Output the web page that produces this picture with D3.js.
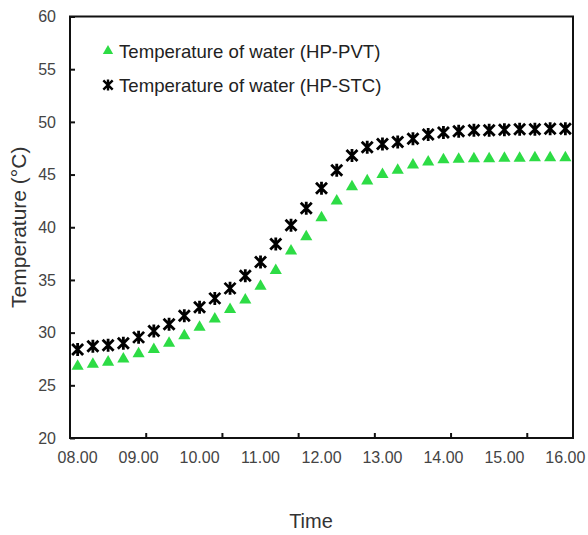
<!DOCTYPE html>
<html>
<head>
<meta charset="utf-8">
<script src="https://cdn.jsdelivr.net/npm/d3@7"></script>
<style>
  body { margin: 0; background: #fff; }
  text { font-family: "Liberation Sans", Arial, sans-serif; }
</style>
</head>
<body>
<div id="chart"></div>
<script>
// time slots, every 15 minutes
const times = [
  "08.00","08.15","08.30","08.45","09.00","09.15","09.30","09.45",
  "10.00","10.15","10.30","10.45","11.00","11.15","11.30","11.45",
  "12.00","12.15","12.30","12.45","13.00","13.15","13.30","13.45",
  "14.00","14.15","14.30","14.45","15.00","15.15","15.30","15.45","16.00"
]
const pvt = [
  26.8, 27.0, 27.2, 27.5, 28.0, 28.4, 29.0, 29.7,
  30.5, 31.3, 32.2, 33.1, 34.4, 35.9, 37.75, 39.1,
  40.9, 42.5, 43.85, 44.4, 45.0, 45.4, 45.9, 46.2,
  46.4, 46.45, 46.5, 46.5, 46.55, 46.55, 46.6, 46.6, 46.6
]
const stc = [
  28.4, 28.7, 28.8, 29.0, 29.55, 30.15, 30.8, 31.6,
  32.4, 33.25, 34.2, 35.4, 36.7, 38.4, 40.2, 41.8,
  43.7, 45.4, 46.8, 47.6, 47.9, 48.1, 48.4, 48.8,
  49.0, 49.1, 49.2, 49.2, 49.25, 49.3, 49.3, 49.35, 49.35
]
const yTicks = [20, 25, 30, 35, 40, 45, 50, 55, 60]
const labelTimes = ["08.00","09.00","10.00","11.00","12.00","13.00","14.00","15.00","16.00"]
const series = [
  { name: "Temperature of water (HP-PVT)", values: pvt, marker: "triangle" },
  { name: "Temperature of water (HP-STC)", values: stc, marker: "star" }
]

const W = 588, H = 535
const m = { left: 70, right: 15, top: 16.5, bottom: 97 }
const green = "#2ddc45"

const svg = d3.select('#chart').append('svg')
  .attr('width', W).attr('height', H)

const x = d3.scaleBand().domain(times).range([m.left, W - m.right]).padding(0)
const y = d3.scaleLinear().domain([20, 60]).range([H - m.bottom, m.top])
const xc = d => x(d) + x.bandwidth() / 2

// frame
svg.append('rect')
  .attr('x', m.left).attr('y', m.top)
  .attr('width', W - m.right - m.left).attr('height', H - m.bottom - m.top)
  .attr('fill', 'none').attr('stroke', '#111').attr('stroke-width', 2)

// y axis, ticks inside
const gy = svg.append('g')
  .attr('transform', `translate(${m.left},0)`)
  .call(d3.axisLeft(y).tickValues(yTicks).tickSizeInner(-5).tickSizeOuter(0).tickPadding(14))
gy.select('.domain').remove()
gy.selectAll('line').attr('stroke', '#111').attr('stroke-width', 2)
gy.selectAll('text').attr('font-size', 16).attr('fill', '#444')
  .style('font-family', '"Liberation Sans", Arial, sans-serif')

// x axis, labels each hour
const gx = svg.append('g')
  .attr('transform', `translate(0,${H - m.bottom})`)
  .call(d3.axisBottom(x).tickValues(labelTimes).tickSize(0).tickPadding(14))
gx.select('.domain').remove()
gx.selectAll('text').attr('font-size', 16).attr('fill', '#444')
  .style('font-family', '"Liberation Sans", Arial, sans-serif')

// x tick marks every 5 categories
svg.append('g').selectAll('line')
  .data(times.filter((d, i) => i > 0 && i % 5 === 0))
  .join('line')
  .attr('x1', d => x(d)).attr('x2', d => x(d))
  .attr('y1', H - m.bottom).attr('y2', H - m.bottom - 5)
  .attr('stroke', '#111').attr('stroke-width', 2)

// markers
const tri = d3.symbol(d3.symbolTriangle, 64)()
const star = "M-5.5,-5.5L5.5,5.5M-5.5,5.5L5.5,-5.5M0,-6.5L0,6.5"

function drawMarker(sel, type) {
  if (type === 'triangle')
    sel.append('path').attr('d', tri).attr('fill', green)
  else
    sel.append('path').attr('d', star).attr('fill', 'none')
      .attr('stroke', '#000').attr('stroke-width', 2.8)
}

series.forEach(s => {
  svg.append('g').selectAll('g')
    .data(s.values)
    .join('g')
    .attr('transform', (d, i) => `translate(${xc(times[i])},${y(d)})`)
    .each(function() { drawMarker(d3.select(this), s.marker) })
})

// legend
const leg = svg.append('g')
series.forEach((s, i) => {
  const row = leg.append('g').attr('transform', `translate(108,${51 + i * 34})`)
  drawMarker(row.append('g').attr('transform', 'scale(0.85)'), s.marker)
  row.append('text').attr('x', 11).attr('dy', '0.35em')
    .attr('font-size', 18.6).attr('fill', '#222').text(s.name)
})

// axis titles
svg.append('text')
  .attr('transform', `translate(19,${(m.top + H - m.bottom) / 2}) rotate(-90)`)
  .attr('text-anchor', 'middle').attr('dy', '0.35em')
  .attr('font-size', 21).attr('fill', '#333')
  .text('Temperature (°C)')

svg.append('text')
  .attr('x', 311).attr('y', 528)
  .attr('text-anchor', 'middle')
  .attr('font-size', 20).attr('fill', '#333')
  .text('Time')
</script>
</body>
</html>
